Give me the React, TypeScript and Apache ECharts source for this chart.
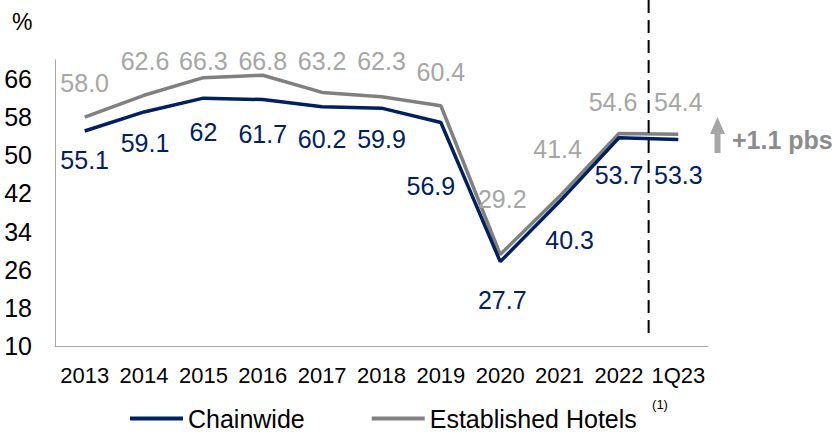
import React, { useEffect, useRef } from "react";
import * as echarts from "echarts";

const categories = ["2013", "2014", "2015", "2016", "2017", "2018", "2019", "2020", "2021", "2022", "1Q23"];
const chainwide = [55.1, 59.1, 62, 61.7, 60.2, 59.9, 56.9, 27.7, 40.3, 53.7, 53.3];
const established = [58.0, 62.6, 66.3, 66.8, 63.2, 62.3, 60.4, 29.2, 41.4, 54.6, 54.4];
const yMin = 10;
const yMax = 70;
const yInterval = 8;

// label placement (layout only)
const estLabelOffsets = [[0, -34], [1, -34], [0, -17], [0, -14], [0, -31], [0, -36], [0, -34], [2, -55], [-2, -47], [-6, -31], [0, -32]];
const chainLabelOffsets = [[0, 29], [1, 31], [0, 34], [0, 34], [0, 32], [0, 31], [-10, 64], [2, 38], [10, 38], [0, 37], [0, 35]];

const FONT = "'Liberation Sans', Arial, sans-serif";
const NAVY = "#002060";
const GRAY_LINE = "#808080";
const GRAY_LABEL = "#a6a6a6";

export default function App() {
  const ref = useRef<HTMLDivElement>(null);
  useEffect(() => {
    document.body.style.margin = "0";
    const chart = echarts.init(ref.current!, null, { renderer: "svg" });
    const option: any = {
      animation: false,
      grid: { left: 55, right: 129, top: 60, bottom: 88, containLabel: false },
      legend: {
        left: 125,
        top: 401,
        icon: "rect",
        itemWidth: 53,
        itemHeight: 4,
        itemGap: 67,
        textStyle: { fontFamily: FONT, fontSize: 25, color: "#000" },
        data: ["Chainwide", "Established Hotels"],
      },
      xAxis: {
        type: "category",
        data: categories,
        boundaryGap: true,
        axisLine: { show: true, lineStyle: { color: "#a6a6a6", width: 1 } },
        axisTick: { show: false },
        axisLabel: { fontFamily: FONT, fontSize: 22, color: "#000", margin: 18, interval: 0 },
      },
      yAxis: {
        type: "value",
        min: yMin,
        max: yMax,
        interval: yInterval,
        splitLine: { show: false },
        axisLine: { show: true, lineStyle: { color: "#a6a6a6", width: 1 } },
        axisTick: { show: false },
        axisLabel: {
          fontFamily: FONT,
          fontSize: 25,
          color: "#000",
          margin: 23,
          formatter: (v: number) => (v === yMax ? "" : String(v)),
        },
      },
      series: [
        {
          name: "Established Hotels",
          type: "line",
          color: GRAY_LINE,
          data: established.map((v, i) => ({
            value: v,
            label: { offset: estLabelOffsets[i] },
          })),
          symbol: "circle",
          symbolSize: 0.1,
          lineStyle: { color: GRAY_LINE, width: 3.5 },
          label: {
            show: true,
            position: "inside",
            fontFamily: FONT,
            fontSize: 25,
            color: GRAY_LABEL,
            formatter: (p: any) => Number(p.value).toFixed(1),
          },
          z: 2,
        },
        {
          name: "Chainwide",
          type: "line",
          color: NAVY,
          data: chainwide.map((v, i) => ({
            value: v,
            label: { offset: chainLabelOffsets[i] },
          })),
          symbol: "circle",
          symbolSize: 0.1,
          lineStyle: { color: NAVY, width: 3.5 },
          label: {
            show: true,
            position: "inside",
            fontFamily: FONT,
            fontSize: 25,
            color: NAVY,
            formatter: (p: any) => String(p.value),
          },
          z: 3,
        },
      ],
    };
    chart.setOption(option);
    const x1 = chart.convertToPixel({ xAxisIndex: 0 }, categories[categories.length - 2]) as number;
    const x2 = chart.convertToPixel({ xAxisIndex: 0 }, categories[categories.length - 1]) as number;
    const xd = (x1 + x2) / 2;
    chart.setOption({
      graphic: [
        {
          type: "line",
          shape: { x1: xd, y1: 0, x2: xd, y2: 340 },
          style: { stroke: "#000", lineWidth: 2, lineDash: [13, 7] },
          z: 10,
        },
        {
          type: "text",
          left: 12,
          top: 10,
          style: { text: "%", fontFamily: FONT, fontSize: 23, fill: "#000" },
        },
        {
          type: "polygon",
          shape: {
            points: [
              [717.5, 117],
              [710, 134],
              [714.5, 134],
              [714.5, 153],
              [720.5, 153],
              [720.5, 134],
              [725, 134],
            ],
          },
          style: { fill: "#a6a6a6" },
        },
        {
          type: "text",
          x: 732,
          y: 140,
          style: {
            text: "+1.1 pbs",
            fontFamily: FONT,
            fontSize: 25,
            fontWeight: "bold",
            fill: "#8c8c8c",
            textVerticalAlign: "middle",
            verticalAlign: "middle",
          },
        },
        {
          type: "text",
          x: 660,
          y: 404,
          style: {
            text: "(1)",
            fontFamily: FONT,
            fontSize: 13,
            fill: "#000",
            align: "center",
            verticalAlign: "middle",
          },
        },
      ],
    });
    return () => chart.dispose();
  }, []);
  return <div ref={ref} style={{ width: 837, height: 434, position: "absolute", left: 0, top: 0 }} />;
}
